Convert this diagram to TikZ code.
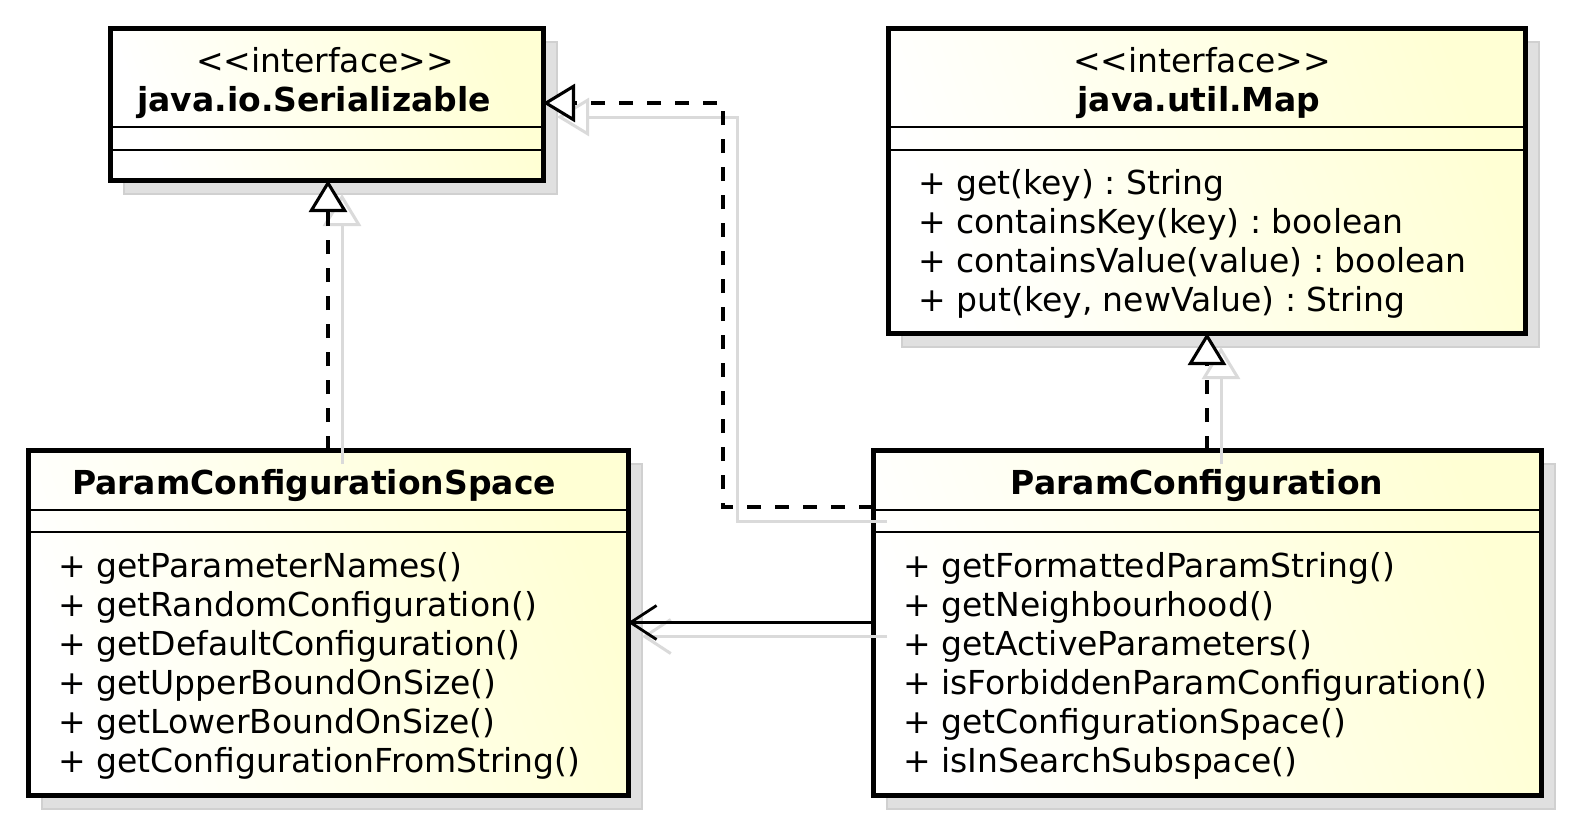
\documentclass[tikz,border=0pt]{standalone}
\usepackage{fontspec}
\setmainfont{DejaVu Sans}
\usetikzlibrary{arrows.meta,calc,backgrounds}
\definecolor{umly}{RGB}{255,255,212}
\definecolor{shdfill}{RGB}{224,224,224}
\definecolor{shdedge}{RGB}{208,208,208}
\definecolor{shdline}{RGB}{218,218,218}
\frenchspacing
\begin{document}
\begin{tikzpicture}[x=0.5pt,y=-0.5pt,
  umlbox/.style={draw, line width=2.5pt, left color=white, right color=umly, shading angle=110, inner sep=0pt, outer sep=0pt, anchor=north west},
  divline/.style={line width=1.25pt},
  boxshadow/.style={fill=shdfill, draw=shdedge, line width=1.2pt},
  txt/.style={inner sep=0pt, font=\fontsize{16.5}{19.5}\selectfont},
  btxt/.style={txt, font=\fontsize{16.5}{19.5}\selectfont\bfseries},
  mtxt/.style={txt, anchor=base west},
  real/.style={line width=1.55pt, dash pattern=on 7pt off 7pt, -{Triangle[length=16pt,width=19pt,fill=white]}},
  realshadow/.style={draw=shdline, line width=1.5pt, -{Triangle[length=16pt,width=19pt,fill=white]}, transform canvas={xshift=7pt,yshift=-7pt}},
  assoc/.style={line width=1.4pt, -{Straight Barb[length=13pt,width=17pt]}},
  assocshadow/.style={draw=shdline, line width=1.5pt, -{Straight Barb[length=13pt,width=17pt]}, transform canvas={xshift=7pt,yshift=-7pt}}
]
\useasboundingbox (0,0) rectangle (1572,825);

% boxes
\node[umlbox, minimum width=216.5pt, minimum height=76pt] (ser) at (110,28) {};
\node[umlbox, minimum width=318.5pt, minimum height=152.5pt] (map) at (888,28) {};
\node[umlbox, minimum width=300pt, minimum height=172.5pt] (pcs) at (28,450) {};
\node[umlbox, minimum width=334pt, minimum height=172.5pt] (pc) at (873,450) {};

% box shadows
\begin{scope}[on background layer]
  \foreach \b in {ser,map,pcs,pc}{
    \draw[boxshadow] ($(\b.north west)+(14,14)$) rectangle ($(\b.south east)+(14,14)$);
  }
\end{scope}

% compartments
\foreach \b/\a/\c in {ser/99/122, map/99/122, pcs/60/82, pc/60/82}{
  \draw[divline] ($(\b.north west)+(0,\a)$) -- ($(\b.north east)+(0,\a)$);
  \draw[divline] ($(\b.north west)+(0,\c)$) -- ($(\b.north east)+(0,\c)$);
}

% texts
\node[txt, anchor=base] (serst) at (325,72) {<\kern0pt<interface>\kern0pt>};
\node[btxt, anchor=base] (sername) at (314,111) {java.io.Serializable};
\node[txt, anchor=base] (mapst) at (1202,72) {<\kern0pt<interface>\kern0pt>};
\node[btxt, anchor=base] (mapname) at (1199,111) {java.util.Map};
\node[mtxt] (m1) at (918,194) {+ get(key) : String};
\node[mtxt] (m2) at (918,233) {+ containsKey(key) : boolean};
\node[mtxt] (m3) at (918,272) {+ containsValue(value) : boolean};
\node[mtxt] (m4) at (918,311) {+ put(key, newValue) : String};

\node[btxt, anchor=base] (pcsname) at (314,494) {ParamConfigurationSpace};
\node[mtxt] (s1) at (58,577) {+ getParameterNames()};
\node[mtxt] (s2) at (58,616) {+ getRandomConfiguration()};
\node[mtxt] (s3) at (58,655) {+ getDefaultConfiguration()};
\node[mtxt] (s4) at (58,694) {+ getUpperBoundOnSize()};
\node[mtxt] (s5) at (58,733) {+ getLowerBoundOnSize()};
\node[mtxt] (s6) at (58,772) {+ getConfigurationFromString()};

\node[btxt, anchor=base] (pcname) at (1197,494) {ParamConfiguration};
\node[mtxt] (c1) at (903,577) {+ getFormattedParamString()};
\node[mtxt] (c2) at (903,616) {+ getNeighbourhood()};
\node[mtxt] (c3) at (903,655) {+ getActiveParameters()};
\node[mtxt] (c4) at (903,694) {+ isForbiddenParamConfiguration()};
\node[mtxt] (c5) at (903,733) {+ getConfigurationSpace()};
\node[mtxt] (c6) at (903,772) {+ isInSearchSubspace()};

% bend points
\coordinate (k1) at (723,507);
\coordinate (k2) at (723,103);

% connector shadows
\draw[realshadow] (pcs.north) -- (pcs.north |- ser.south);
\draw[realshadow] (k1 -| pc.west) -- (k1) -- (k2) -- (k2 -| ser.east);
\draw[realshadow] (pc.north) -- (pc.north |- map.south);
\draw[assocshadow] (pc.west) -- (pc.west -| pcs.east);

% connectors
\draw[real] (pcs.north) -- (pcs.north |- ser.south);
\draw[real] (k1 -| pc.west) -- (k1) -- (k2) -- (k2 -| ser.east);
\draw[real] (pc.north) -- (pc.north |- map.south);
\draw[assoc] (pc.west) -- (pc.west -| pcs.east);
\end{tikzpicture}
\end{document}
